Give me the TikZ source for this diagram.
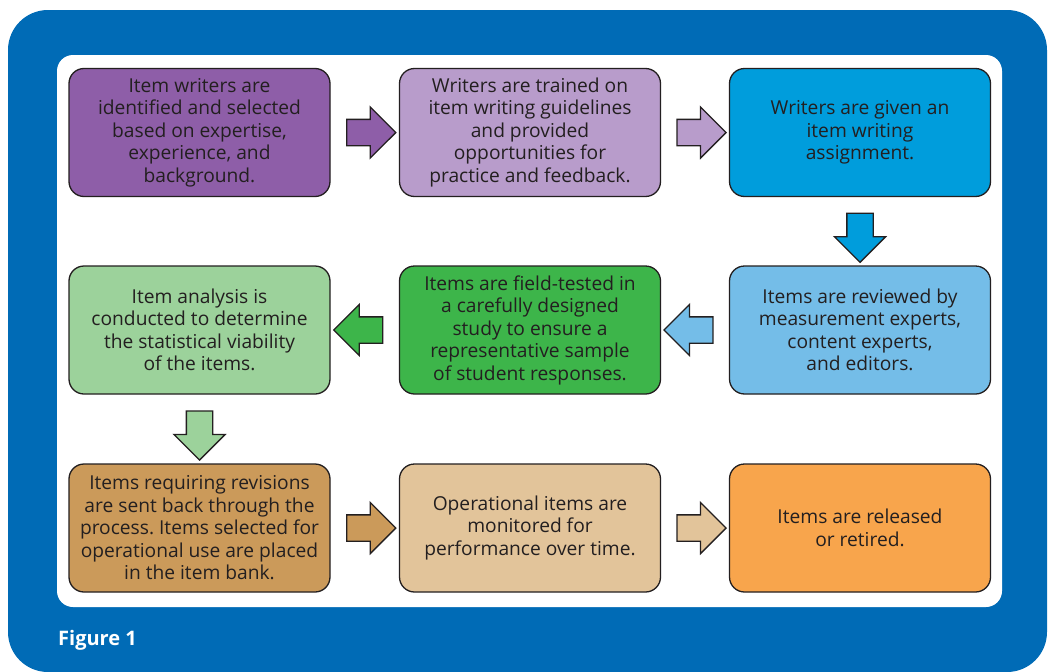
\documentclass[tikz,border=0pt]{standalone}
\usepackage{fontspec}
\setmainfont{Open Sans}
\frenchspacing
\usetikzlibrary{shapes.arrows,calc}
\definecolor{outerblue}{HTML}{006BB6}
\definecolor{txt}{HTML}{231F20}
\definecolor{cA}{HTML}{8E5EA8}
\definecolor{cB}{HTML}{B89CCB}
\definecolor{cC}{HTML}{009DDC}
\definecolor{cD}{HTML}{9CD29B}
\definecolor{cE}{HTML}{3DB54A}
\definecolor{cF}{HTML}{74BDE8}
\definecolor{cG}{HTML}{CB9A5A}
\definecolor{cH}{HTML}{E2C49A}
\definecolor{cI}{HTML}{F8A54C}
\tikzset{
  stepbox/.style={draw=txt, line width=1.3pt, rounded corners=15pt,
    minimum width=261pt, minimum height=128pt, inner sep=0pt, align=center,
    text=txt, font=\fontsize{19.2}{22.5}\selectfont},
  blockarrow/.style={single arrow, draw=txt, line width=1.3pt,
    minimum height=49pt, minimum width=50pt, inner sep=0pt,
    single arrow head extend=12.5pt, inner ysep=12.5pt, inner xsep=0pt},
  vblockarrow/.style={blockarrow, inner xsep=12.5pt, inner ysep=0pt,
    shape border rotate=270},
}
\begin{document}
\begin{tikzpicture}[x=1pt,y=-1pt]
\useasboundingbox (0,0) rectangle (1053,672);
\fill[outerblue, rounded corners=40pt] (8,10) rectangle (1047,672);
\fill[white, rounded corners=16pt] (57,55) rectangle (1002,607);

\node[stepbox, fill=cA] (b1) at (199.5,132.5) {Item writers are\\identified and selected\\based on expertise,\\experience, and\\background.};
\node[stepbox, fill=cB] (b2) at (530,132.5) {Writers are trained on\\item writing guidelines\\and provided\\opportunities for\\practice and feedback.};
\node[stepbox, fill=cC] (b3) at (860,132.5) {Writers are given an\\item writing\\assignment.};
\node[stepbox, fill=cF] (b6) at (860,330) {Items are reviewed by\\measurement experts,\\content experts,\\and editors.};
\node[stepbox, fill=cE] (b5) at (530,330) {Items are field-tested in\\a carefully designed\\study to ensure a\\representative sample\\of student responses.};
\node[stepbox, fill=cD] (b4) at (199.5,330) {Item analysis is\\conducted to determine\\the statistical viability\\of the items.};
\node[stepbox, fill=cG] (b7) at (199.5,528) {Items requiring revisions\\are sent back through the\\process. Items selected for\\operational use are placed\\in the item bank.};
\node[stepbox, fill=cH] (b8) at (530,528) {Operational items are\\monitored for\\performance over time.};
\node[stepbox, fill=cI] (b9) at (860,528) {Items are released\\or retired.};

\node[blockarrow, fill=cA] (a12) at ($(b1.east)!0.5!(b2.west)$) {};
\node[blockarrow, fill=cB] (a23) at ($(b2.east)!0.5!(b3.west)$) {};
\node[vblockarrow, fill=cC] (a36) at ($(b3.south)!0.5!(b6.north)$) {};
\node[blockarrow, fill=cF, shape border rotate=180] (a65) at ($(b6.west)!0.5!(b5.east)$) {};
\node[blockarrow, fill=cE, shape border rotate=180] (a54) at ($(b5.west)!0.5!(b4.east)$) {};
\node[vblockarrow, fill=cD] (a47) at ($(b4.south)!0.5!(b7.north)$) {};
\node[blockarrow, fill=cG] (a78) at ($(b7.east)!0.5!(b8.west)$) {};
\node[blockarrow, fill=cH] (a89) at ($(b8.east)!0.5!(b9.west)$) {};

\node[anchor=base west, text=white, font=\fontsize{20}{24}\selectfont\bfseries, inner sep=0pt] (fig) at (58,645) {Figure 1};
\end{tikzpicture}
\end{document}
